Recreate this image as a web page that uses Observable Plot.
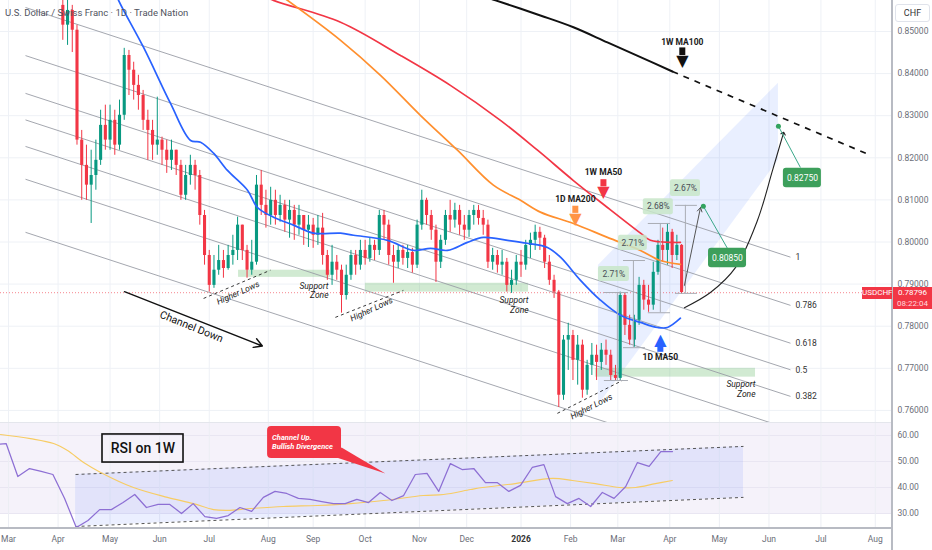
<!DOCTYPE html>
<html>
<head>
<meta charset="utf-8">
<script src="https://cdn.jsdelivr.net/npm/d3@7"></script>
<script src="https://cdn.jsdelivr.net/npm/@observablehq/plot@0.6"></script>
<style>
html,body{margin:0;padding:0;background:#fff;}
#wrap{position:relative;width:932px;height:550px;overflow:hidden;font-family:Roboto,"Liberation Sans",sans-serif;}
#price,#rsi{position:absolute;left:0;}
#price{top:0;}
#rsi{top:422px;}
#price svg,#rsi svg{overflow:hidden;display:block;}
.ov{position:absolute;box-sizing:border-box;white-space:nowrap;}
</style>
</head>
<body>
<div id="wrap">
  <div id="price"></div>
  <div id="rsi"></div>
  <div class="ov" style="left:5px;top:7px;font-size:9.5px;color:#50535e;">U.S. Dollar / Swiss Franc · 1D · Trade Nation</div>
  <div class="ov" style="left:0;top:422px;width:892px;height:1px;background:#e4e6ec"></div>
  <div class="ov" style="left:0;top:527px;width:892px;height:1.5px;background:#b8bbc3"></div>
  <div class="ov" style="left:891px;top:0;width:1.5px;height:550px;background:#b8bbc3"></div>
  <div class="ov" style="left:895px;top:4px;width:35px;height:18px;border:1px solid #e0e3eb;border-radius:3px;font-size:9px;line-height:16px;text-align:center;color:#333;">CHF</div>
  <div class="ov" style="left:862px;top:287px;width:30px;height:12px;background:#f23645;color:#fff;font-size:8px;line-height:12px;text-align:center;">USDCHF</div>
  <div class="ov" style="left:893px;top:287px;width:39px;height:22px;background:#f23645;color:#fff;font-size:8px;line-height:11px;text-align:center;">0.78796<br><span style="color:#ffd9dc">08:22:04</span></div>
</div>
<script>
// ---------------- data ----------------
const monthDays   = [0,21,43,64,85,110,129,151,174,194,217,238,258,280,301,322,344,367];
const monthLabels = ["Mar","Apr","May","Jun","Jul","Aug","Sep","Oct","Nov","Dec","2026","Feb","Mar","Apr","May","Jun","Jul","Aug"];
const priceTicks  = [0.76,0.77,0.78,0.79,0.80,0.81,0.82,0.83,0.84,0.85];
const rsiTicks    = [30,40,50,60];
const lastPrice   = 0.78796;

// candles: one every 2 trading days, open = previous close
const candleStart = 23, candleStep = 2, firstOpen = 0.8562;
const close = [
0.8515,0.8550,0.8503,0.8242,0.8182,0.8135,0.8158,0.8194,0.8277,0.8242,
0.8289,0.8230,0.8301,0.8443,0.8408,0.8372,0.8348,0.8289,0.8265,0.8230,
0.8242,0.8218,0.8194,0.8218,0.8182,0.8111,0.8158,0.8182,0.8158,0.8063,
0.7968,0.7897,0.7933,0.7956,0.7937,0.7968,0.7980,0.8040,0.7980,0.7933,
0.7952,0.8135,0.8087,0.8063,0.8099,0.8063,0.8087,0.8052,0.8075,0.8040,
0.8063,0.8028,0.8040,0.8016,0.8033,0.7968,0.7921,0.7952,0.7933,0.7873,
0.7921,0.7968,0.7945,0.7980,0.7961,0.7992,0.7980,0.8063,0.8040,0.7968,
0.7952,0.7980,0.7961,0.7975,0.7945,0.8040,0.8099,0.8063,0.8028,0.7952,
0.8004,0.8063,0.8052,0.8075,0.8040,0.8028,0.8063,0.8075,0.8056,0.8040,
0.7952,0.7968,0.7945,0.7952,0.7897,0.7909,0.7952,0.7945,0.7992,0.8004,
0.8023,0.8009,0.7952,0.7909,0.7881,0.7636,0.7767,0.7778,0.7719,0.7755,
0.7648,0.7707,0.7731,0.7714,0.7743,0.7731,0.7683,0.7676,0.7873,0.7802,
0.7767,0.7814,0.7897,0.7862,0.7850,0.7928,0.7992,0.7980,0.8023,0.7968,
0.7992,0.7880];
const high = [
0.8598,0.8574,0.8562,0.8515,0.8265,0.8230,0.8218,0.8242,0.8313,0.8325,
0.8325,0.8313,0.8337,0.8460,0.8455,0.8427,0.8396,0.8360,0.8313,0.8289,
0.8344,0.8249,0.8242,0.8242,0.8218,0.8194,0.8182,0.8206,0.8194,0.8170,
0.8075,0.7980,0.7968,0.7992,0.7980,0.7992,0.8016,0.8059,0.8040,0.7992,
0.8004,0.8158,0.8170,0.8123,0.8130,0.8123,0.8111,0.8099,0.8099,0.8087,
0.8087,0.8063,0.8063,0.8056,0.8063,0.8068,0.7980,0.7992,0.7968,0.7945,
0.7945,0.7980,0.7980,0.8004,0.8004,0.8009,0.8004,0.8075,0.8075,0.8052,
0.7992,0.7992,0.7992,0.7992,0.7985,0.8052,0.8123,0.8104,0.8075,0.8040,
0.8016,0.8075,0.8099,0.8092,0.8087,0.8063,0.8075,0.8087,0.8087,0.8075,
0.8052,0.7985,0.7980,0.7980,0.7961,0.7933,0.7968,0.7980,0.8004,0.8021,
0.8040,0.8035,0.8016,0.7968,0.7921,0.7885,0.7778,0.7807,0.7790,0.7778,
0.7767,0.7719,0.7759,0.7755,0.7759,0.7767,0.7743,0.7707,0.7881,0.7878,
0.7826,0.7826,0.7916,0.7909,0.7897,0.7952,0.8004,0.8033,0.8044,0.8030,
0.8016,0.7994];
const low = [
0.8479,0.8467,0.8450,0.8230,0.8099,0.8099,0.8044,0.8123,0.8182,0.8218,
0.8218,0.8206,0.8218,0.8289,0.8348,0.8337,0.8313,0.8265,0.8194,0.8194,
0.8206,0.8182,0.8163,0.8170,0.8158,0.8099,0.8099,0.8135,0.8123,0.8040,
0.7945,0.7881,0.7890,0.7921,0.7914,0.7933,0.7945,0.7956,0.7956,0.7914,
0.7921,0.7945,0.8063,0.8033,0.8040,0.8040,0.8047,0.8023,0.8009,0.8004,
0.8016,0.7992,0.7987,0.7985,0.7992,0.7945,0.7909,0.7897,0.7909,0.7831,
0.7862,0.7909,0.7921,0.7933,0.7945,0.7952,0.7956,0.7968,0.8004,0.7945,
0.7902,0.7937,0.7945,0.7937,0.7926,0.7937,0.8028,0.8040,0.8004,0.7904,
0.7937,0.7992,0.8023,0.8033,0.8016,0.8004,0.8011,0.8040,0.8040,0.8016,
0.7937,0.7933,0.7926,0.7921,0.7881,0.7878,0.7897,0.7916,0.7933,0.7961,
0.7980,0.7980,0.7937,0.7897,0.7866,0.7607,0.7624,0.7695,0.7671,0.7660,
0.7629,0.7636,0.7683,0.7671,0.7695,0.7707,0.7671,0.7669,0.7671,0.7778,
0.7755,0.7750,0.7802,0.7838,0.7833,0.7838,0.7921,0.7952,0.7945,0.7937,
0.7956,0.7876];

// moving averages (trading-day index, price)
const ma50Days  = [43.2,46.6,57.2,68.6,77.1,81.3,86.8,92.7,101.2,105.4,112.2,120.7,129.1,140.6,146.1,160.5,171.5,178.7,185.9,194.3,201.1,211.3,219.7,228.2,233.7,242.2,250.6,259.1,267.6,274.8,279.0,284.5];
const ma50Vals  = [0.8621,0.8574,0.8462,0.8329,0.8241,0.8237,0.8211,0.8170,0.8123,0.8082,0.8059,0.8040,0.8021,0.8021,0.8016,0.8004,0.7980,0.7985,0.7980,0.7999,0.8011,0.8004,0.7997,0.7987,0.7964,0.7909,0.7862,0.7826,0.7809,0.7797,0.7797,0.7819];
const ma200Days = [110.9,118.1,140.6,157.5,174.4,190.1,205.3,216.8,225.2,239.2,253.6,267.6,276.0,284.5];
const ma200Vals = [0.8602,0.8574,0.8479,0.8396,0.8301,0.8218,0.8135,0.8099,0.8071,0.8044,0.8011,0.7980,0.7956,0.7947];
const w50Days   = [102.5,112.2,140.6,166.0,187.1,208.3,224.0,239.2,253.6,267.6,271.8,281.5,284.5];
const w50Vals   = [0.8598,0.8574,0.8522,0.8443,0.8372,0.8289,0.8218,0.8146,0.8082,0.8021,0.8004,0.7999,0.7999];
const w100Days  = [195.6,206.2,225.2,239.2,253.6,267.6,281.1];
const w100Vals  = [0.8593,0.8574,0.8538,0.8510,0.8474,0.8439,0.8405];
const w100Proj  = {d1:281.1, p1:0.8405, d2:364.1, p2:0.8208};

// fibonacci channel down
const fibLevels = [1,0.786,0.618,0.5,0.382,0.236,0];
const fibLabelLevels = ["1","0.786","0.618","0.5","0.382"];
const chanDays = [7.2, 331.1];
const chanZero = [0.8023, 0.7429];
const chanOne  = [0.8557, 0.7964];

// RSI (weekly) and its MA
const rsiStart = -5.95, rsiStep = 4.95;
const rsi = [56.5,56.9,44.2,47.3,46.2,45.0,35.8,24.6,27.3,31.5,31.5,34.2,37.3,32.3,33.5,33.5,30.0,33.8,28.8,28.1,29.2,32.3,30.8,36.2,38.5,37.7,35.8,35.4,34.6,33.8,33.8,35.4,34.2,38.1,35.0,36.9,45.0,45.4,38.5,49.2,46.9,47.3,41.9,41.9,38.5,40.8,47.7,48.8,36.5,33.8,35.8,32.7,38.1,35.8,40.4,49.6,48.1,53.8,53.8];
const rsiMaDays = [-3.4,9.3,19.1,25.0,31.8,39.0,52.9,67.3,78.3,86.8,92.7,102.5,116.4,130.8,144.8,158.8,175.7,184.2,195.6,200.7,214.6,230.3,238.8,248.5,258.7,265.5,273.9,281.1];
const rsiMaVals = [60.4,58.8,56.9,54.2,49.6,45.8,40.0,36.2,33.8,31.5,31.2,31.9,32.7,33.1,33.8,35.0,36.9,37.3,39.2,40.0,41.5,43.5,42.7,41.5,40.0,40.0,41.5,42.7];

// annotations (in day index / price units)
const upChannel = [{d:249.8, lo:0.7612, hi:0.7945},{d:326.0, lo:0.8194, hi:0.8377}];
const zones = [{x1:97.4,x2:136.3,y1:0.7916,y2:0.7933},{x1:151.1,x2:220.2,y1:0.7881,y2:0.7902},{x1:248.5,x2:316.3,y1:0.7679,y2:0.7700}];
const supportLabels = [{d:135.5,p:0.7885},{d:220.2,p:0.7850},{d:316.3,p:0.7651}];
const higherLowLines = [{x1:82.6,y1:0.7866,x2:110.9,y2:0.7933},{x1:138.4,y1:0.7821,x2:167.2,y2:0.7885},{x1:232.4,y1:0.7593,x2:259.9,y2:0.7671}];
const higherLowLabels = [{d:97.2,p:0.7879,r:-24},{d:153.7,p:0.7840,r:-25},{d:246.8,p:0.7609,r:-27}];
const channelDown = {d:77.5, p:0.7799, r:22, x1:49.1, y1:0.7882, x2:107.5, y2:0.7753};
const maTags = [
  {t:"1D MA200", d:240.0, p:0.8101, s1:0.8085, s2:0.8068, h:0.8056, g:"▼", c:"#ff9446"},
  {t:"1W MA50",  d:251.9, p:0.8165, s1:0.8148, s2:0.8131, h:0.8119, g:"▼", c:"#f23645"},
  {t:"1W MA100", d:285.3, p:0.8474, s1:0.8461, s2:0.8443, h:0.8430, g:"▼", c:"#111111"},
  {t:"1D MA50",  d:276.0, p:0.7726, s1:0.7759, s2:0.7738, h:0.7768, g:"▲", c:"#2962ff"}
];
const pctBoxes = [
  {x1:249.8,x2:262.9,y1:0.7906,y2:0.7942,t:"2.71%"},
  {x1:258.3,x2:270.5,y1:0.7980,y2:0.8016,t:"2.71%"},
  {x1:268.8,x2:281.5,y1:0.8065,y2:0.8103,t:"2.68%"},
  {x1:280.3,x2:293.0,y1:0.8108,y2:0.8148,t:"2.67%"}
];
const ranges = [
  {d:257.8, lo:0.7671, hi:0.7880, c1:252.3, c2:262.5},
  {d:264.6, lo:0.7749, hi:0.7956, c1:260.4, c2:269.7},
  {d:276.0, lo:0.7832, hi:0.8044, c1:270.9, c2:280.3},
  {d:286.6, lo:0.7878, hi:0.8087, c1:282.4, c2:291.7}
];
const targets = [
  {d:294.2, p:0.8085, t:"0.80850", bx1:296.4, bx2:312.5, by1:0.7939, by2:0.7985, lx:304.4, ly:0.7985, tx:304.4, ty:0.7962},
  {d:326.0, p:0.8275, t:"0.82750", bx1:328.1, bx2:344.2, by1:0.8129, by2:0.8175, lx:335.3, ly:0.8177, tx:336.2, ty:0.8152}
];
const straightPath = {x1:286.2, y1:0.7897, x2:293.0, y2:0.8082};
const curveDays = [286.2,297.2,307.8,317.1,323.5,328.1];
const curveVals = [0.7844,0.7880,0.7939,0.8051,0.8170,0.8258];

const rsiChannel = [{d:28.4, lo:25.0, hi:45.0},{d:311.2, lo:36.2, hi:55.8}];
const rsiTitle = {x1:39.8, x2:74.1, y1:49.6, y2:60.4, tx:56.9, ty:55.0};
const callout = {x1:109.7, x2:141.0, y1:51.2, y2:63.5, tx:111.6, ty:57.5};
const calloutPointer = [{d:141.0,v:55.4},{d:159.6,v:45.4},{d:137.6,v:51.9}];

// ---------------- build ----------------
const FONT = "Roboto, 'Liberation Sans', 'DejaVu Sans', sans-serif";
const xDom = [-3.39, 374.3];
const yDom = [0.75713, 0.85736];
const UP = "#089981", DOWN = "#f23645";
const pts = (ds, vs) => ds.map((d, i) => ({d, v: vs[i]}));

const candles = close.map((c, i) => ({d: candleStart + candleStep * i, o: i ? close[i - 1] : firstOpen, c, h: high[i], l: low[i]}));
const ccol = d => d.c >= d.o ? UP : DOWN;
const fib = fibLevels.map((l, i) => ({
  l, lab: fibLabelLevels[i],
  x1: chanDays[0], x2: chanDays[1],
  y1: chanZero[0] + l * (chanOne[0] - chanZero[0]),
  y2: chanZero[1] + l * (chanOne[1] - chanZero[1])
}));
const months = monthDays.map((d, i) => ({d, label: monthLabels[i]}));

const pricePlot = Plot.plot({
  width: 932, height: 422,
  marginLeft: 0, marginRight: 40, marginTop: 0, marginBottom: 0,
  x: {domain: xDom, axis: null},
  y: {domain: yDom, axis: null},
  style: {fontFamily: FONT, fontSize: "8.5px", background: "transparent"},
  marks: [
    Plot.ruleY(priceTicks, {stroke: "#eef1f6"}),
    Plot.ruleX(monthDays, {stroke: "#eef1f6"}),
    Plot.areaY(upChannel, {x: "d", y1: "lo", y2: "hi", fill: "#2962ff", fillOpacity: 0.1, clip: true}),
    Plot.rect(zones, {x1: "x1", x2: "x2", y1: "y1", y2: "y2", fill: "#66bb6a", fillOpacity: 0.3}),
    Plot.link(fib, {x1: "x1", x2: "x2", y1: "y1", y2: "y2", stroke: "#9a9da6", strokeWidth: 0.9, clip: true}),
    Plot.text(fib.filter(f => f.lab), {x: "x2", y: "y2", text: "lab", dx: 5, textAnchor: "start", fontSize: 8.5, fill: "#333"}),
    Plot.ruleY([lastPrice], {stroke: "#f23645", strokeDasharray: "1,2", strokeOpacity: 0.6}),
    // candles
    Plot.ruleX(candles, {x: "d", y1: "l", y2: "h", stroke: ccol, strokeWidth: 1, clip: true}),
    Plot.ruleX(candles, {x: "d", y1: "o", y2: "c", stroke: ccol, strokeWidth: 3.1, clip: true}),
    // moving averages
    Plot.line(pts(w100Days, w100Vals), {x: "d", y: "v", stroke: "#111", strokeWidth: 2, curve: "catmull-rom", clip: true}),
    Plot.link([w100Proj], {x1: "d1", y1: "p1", x2: "d2", y2: "p2", stroke: "#111", strokeWidth: 1.7, strokeDasharray: "6,6"}),
    Plot.line(pts(w50Days, w50Vals), {x: "d", y: "v", stroke: "#f23645", strokeWidth: 1.7, curve: "catmull-rom", clip: true}),
    Plot.line(pts(ma200Days, ma200Vals), {x: "d", y: "v", stroke: "#ff8f2e", strokeWidth: 1.7, curve: "catmull-rom", clip: true}),
    Plot.line(pts(ma50Days, ma50Vals), {x: "d", y: "v", stroke: "#2962ff", strokeWidth: 1.7, curve: "catmull-rom", clip: true}),
    // higher lows & support zones
    Plot.link(higherLowLines, {x1: "x1", y1: "y1", x2: "x2", y2: "y2", stroke: "#222", strokeWidth: 0.9, strokeDasharray: "3,3"}),
    Plot.text(higherLowLabels, {x: "d", y: "p", rotate: d => d.r, text: () => "Higher Lows", fontSize: 8.5, fontStyle: "italic", fill: "#1a1a1a"}),
    Plot.text(supportLabels, {x: "d", y: "p", text: () => "Support\nZone", textAnchor: "end", lineHeight: 1.15, fontSize: 8.5, fontStyle: "italic", fill: "#1a1a1a"}),
    // channel down
    Plot.arrow([channelDown], {x1: "x1", y1: "y1", x2: "x2", y2: "y2", stroke: "#111", strokeWidth: 1.4, headLength: 10}),
    Plot.text([channelDown], {x: "d", y: "p", rotate: d => d.r, text: () => "Channel Down", fontSize: 10.5, fill: "#111"}),
    // range measurements
    Plot.ruleX(ranges, {x: "d", y1: "lo", y2: "hi", stroke: "#a9acb4", strokeWidth: 1}),
    Plot.ruleY(ranges, {y: "lo", x1: "c1", x2: "c2", stroke: "#a9acb4", strokeWidth: 1}),
    Plot.ruleY(ranges, {y: "hi", x1: "c1", x2: "c2", stroke: "#a9acb4", strokeWidth: 1}),
    Plot.rect(pctBoxes, {x1: "x1", x2: "x2", y1: "y1", y2: "y2", fill: "#c8e6c9", fillOpacity: 0.85, rx: 2}),
    Plot.text(pctBoxes, {x: d => (d.x1 + d.x2) / 2, y: d => (d.y1 + d.y2) / 2, text: "t", fontSize: 8.5, fill: "#4a4d57"}),
    // projections
    Plot.arrow([straightPath], {x1: "x1", y1: "y1", x2: "x2", y2: "y2", stroke: "#555", strokeWidth: 1, headLength: 7}),
    Plot.line(pts(curveDays, curveVals), {x: "d", y: "v", stroke: "#222", strokeWidth: 1.1, curve: "catmull-rom", markerEnd: "arrow"}),
    Plot.link(targets, {x1: "d", y1: "p", x2: "lx", y2: "ly", stroke: "#3aa88a", strokeWidth: 1}),
    Plot.dot(targets, {x: "d", y: "p", r: 2.5, fill: "#33a35f"}),
    Plot.rect(targets, {x1: "bx1", x2: "bx2", y1: "by1", y2: "by2", fill: "#3d9f5b", rx: 3}),
    Plot.text(targets, {x: "tx", y: "ty", text: "t", fill: "#fff", fontSize: 8.5}),
    // MA tags with block arrows
    Plot.ruleX(maTags, {x: "d", y1: "s1", y2: "s2", stroke: d => d.c, strokeWidth: 6}),
    Plot.text(maTags, {x: "d", y: "h", text: "g", fill: d => d.c, fontSize: 16, fontFamily: "DejaVu Sans"}),
    Plot.text(maTags, {x: "d", y: "p", text: "t", fontSize: 8.5, fontWeight: "bold", fill: "#1a1a1a"}),
    // right axis labels
    Plot.text(priceTicks, {y: d => d, text: d => d.toFixed(5), frameAnchor: "right", dx: 5, textAnchor: "start", fontSize: 8.5, fill: "#6b6e78"})
  ]
});
document.getElementById("price").appendChild(pricePlot);

const rsiPts = rsi.map((v, i) => ({d: rsiStart + rsiStep * i, v}));
const rsiPlot = Plot.plot({
  width: 932, height: 128,
  marginLeft: 0, marginRight: 40, marginTop: 0, marginBottom: 22,
  x: {domain: xDom, axis: null},
  y: {domain: [24.23, 65], axis: null},
  style: {fontFamily: FONT, fontSize: "8.5px", background: "transparent"},
  marks: [
    Plot.rect([{x1: xDom[0], x2: xDom[1], y1: 30, y2: 70}], {x1: "x1", x2: "x2", y1: "y1", y2: "y2", fill: "#7e57c2", fillOpacity: 0.08, clip: true}),
    Plot.ruleY(rsiTicks, {stroke: "#e9e6f2"}),
    Plot.ruleX(monthDays, {stroke: "#eceef4"}),
    Plot.areaY(rsiChannel, {x: "d", y1: "lo", y2: "hi", fill: "#3f5efb", fillOpacity: 0.1}),
    Plot.link([rsiChannel], {x1: d => d[0].d, y1: d => d[0].hi, x2: d => d[1].d, y2: d => d[1].hi, stroke: "#555", strokeWidth: 1, strokeDasharray: "3,3"}),
    Plot.link([rsiChannel], {x1: d => d[0].d, y1: d => d[0].lo, x2: d => d[1].d, y2: d => d[1].lo, stroke: "#555", strokeWidth: 1, strokeDasharray: "3,3"}),
    Plot.line(pts(rsiMaDays, rsiMaVals), {x: "d", y: "v", stroke: "#f7cc63", strokeWidth: 1.1, curve: "catmull-rom", clip: true}),
    Plot.line(rsiPts, {x: "d", y: "v", stroke: "#8d6fd4", strokeWidth: 1.25, clip: true}),
    Plot.rect([rsiTitle], {x1: "x1", x2: "x2", y1: "y1", y2: "y2", fill: "none", stroke: "#111", strokeWidth: 1.6}),
    Plot.text([rsiTitle], {x: "tx", y: "ty", text: () => "RSI on 1W", fontSize: 14, fontWeight: 500, fill: "#111"}),
    Plot.line(calloutPointer, {x: "d", y: "v", fill: "#f23645", stroke: "none"}),
    Plot.rect([callout], {x1: "x1", x2: "x2", y1: "y1", y2: "y2", fill: "#f23645", rx: 4}),
    Plot.text([callout], {x: "tx", y: "ty", text: () => "Channel Up.\nBullish Divergence", textAnchor: "start", lineHeight: 1.2, fontSize: 7.5, fontWeight: "bold", fontStyle: "italic", fill: "#fff"}),
    Plot.text(rsiTicks, {y: d => d, text: d => d.toFixed(2), frameAnchor: "right", dx: 5, textAnchor: "start", fontSize: 8.5, fill: "#6b6e78"}),
    Plot.text(months.filter(m => m.label !== "2026"), {x: "d", text: "label", frameAnchor: "bottom", dy: 13, fontSize: 8.5, fill: "#6b6e78"}),
    Plot.text(months.filter(m => m.label === "2026"), {x: "d", text: "label", frameAnchor: "bottom", dy: 13, fontSize: 8.5, fontWeight: "bold", fill: "#333"})
  ]
});
document.getElementById("rsi").appendChild(rsiPlot);
</script>
</body>
</html>
